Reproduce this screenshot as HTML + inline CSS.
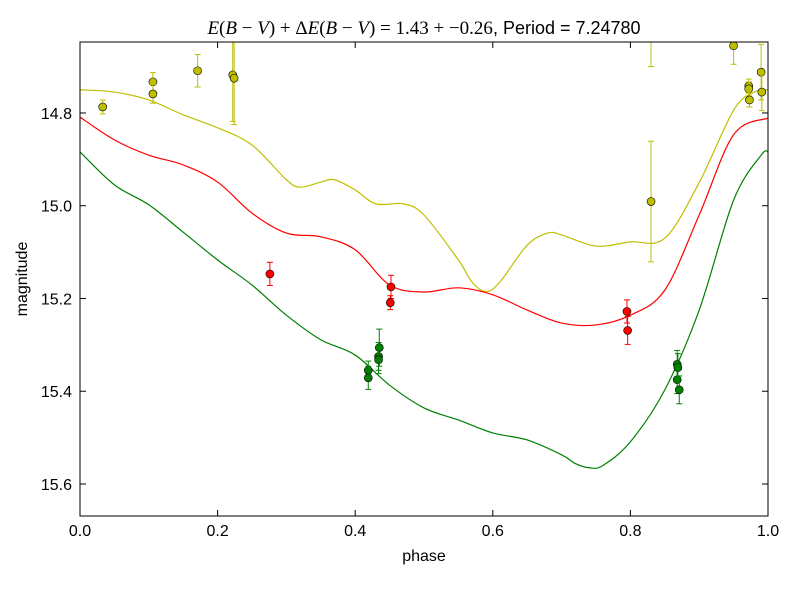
<!DOCTYPE html>
<html><head><meta charset="utf-8"><style>
body{margin:0;background:#fff;}
svg{font-family:"Liberation Sans",sans-serif;}
</style></head><body>
<svg id="chart" width="800" height="600"></svg>
<script>
const yPhase=[0.033,0.106,0.106,0.171,0.222,0.224,0.830,0.830,0.950,0.972,0.972,0.973,0.990,0.991];
const yMag=[14.787,14.733,14.759,14.709,14.718,14.725,14.991,14.600,14.655,14.742,14.748,14.772,14.712,14.755];
const yErr=[0.015,0.02,0.02,0.035,0.1,0.1,0.13,0.1,0.04,0.015,0.015,0.015,0.06,0.04];
const rPhase=[0.276,0.452,0.451,0.795,0.796];
const rMag=[15.147,15.175,15.209,15.228,15.269];
const rErr=[0.025,0.025,0.015,0.025,0.03];
const gPhase=[0.419,0.419,0.435,0.434,0.434,0.868,0.869,0.868,0.871];
const gMag=[15.355,15.371,15.306,15.325,15.332,15.342,15.349,15.375,15.397];
const gErr=[0.02,0.025,0.04,0.03,0.03,0.03,0.03,0.03,0.03];
const yCurveX=[0,0.05,0.1,0.15,0.2,0.25,0.3,0.32,0.35,0.37,0.4,0.43,0.47,0.5,0.55,0.57,0.59,0.61,0.65,0.68,0.7,0.75,0.8,0.85,0.9,0.95,0.98,1.0];
const yCurve=[14.750,14.755,14.772,14.804,14.832,14.869,14.944,14.960,14.949,14.944,14.966,14.996,14.996,15.020,15.117,15.165,15.185,15.165,15.085,15.059,15.063,15.087,15.078,15.070,14.950,14.794,14.755,14.750];
const rCurveX=[0,0.05,0.1,0.15,0.2,0.25,0.3,0.35,0.4,0.45,0.5,0.55,0.6,0.65,0.7,0.75,0.8,0.85,0.9,0.95,1.0];
const rCurve=[14.809,14.858,14.891,14.912,14.949,15.016,15.059,15.067,15.095,15.171,15.186,15.177,15.192,15.225,15.253,15.257,15.236,15.182,15.020,14.847,14.811];
const gCurveX=[0,0.05,0.1,0.15,0.2,0.25,0.3,0.35,0.4,0.45,0.5,0.55,0.6,0.65,0.7,0.72,0.74,0.76,0.8,0.85,0.9,0.95,0.99,1.0];
const gCurve=[14.884,14.955,14.998,15.057,15.117,15.171,15.236,15.289,15.322,15.387,15.436,15.462,15.490,15.505,15.537,15.556,15.565,15.560,15.509,15.397,15.225,14.988,14.891,14.884];
const xTicks=[0,0.2,0.4,0.6,0.8,1.0];
const xTickLabels=["0.0","0.2","0.4","0.6","0.8","1.0"];
const yTicks=[14.8,15.0,15.2,15.4,15.6];
const yTickLabels=["14.8","15.0","15.2","15.4","15.6"];

const L=80,R=768,T=42,B=516,yMin=14.647,yMax=15.669;
const sx=v=>L+(v-0)/(1-0)*(R-L);
const sy=v=>T+(v-yMin)/(yMax-yMin)*(B-T);
const NS="http://www.w3.org/2000/svg";
const svg=document.getElementById('chart');
function mk(tag,attrs,parent){const e=document.createElementNS(NS,tag);for(const k in attrs)e.setAttribute(k,attrs[k]);(parent||svg).appendChild(e);return e;}
mk('defs',{}).innerHTML='<clipPath id="clip"><rect x="80" y="42" width="688" height="474"/></clipPath>';
const plot=mk('g',{'clip-path':'url(#clip)'});


function curve(xs,ys,color,name){
  const p=xs.map((x,i)=>[sx(x),sy(ys[i])]);
  let d=`M${p[0][0]},${p[0][1]}`;
  for(let i=0;i<p.length-1;i++){
    const p0=p[Math.max(i-1,0)],p1=p[i],p2=p[i+1],p3=p[Math.min(i+2,p.length-1)];
    d+=` C${p1[0]+(p2[0]-p0[0])/6},${p1[1]+(p2[1]-p0[1])/6} ${p2[0]-(p3[0]-p1[0])/6},${p2[1]-(p3[1]-p1[1])/6} ${p2[0]},${p2[1]}`;
  }
  const e=mk('path',{d:d,fill:'none',stroke:color,'stroke-width':1.2},plot);
  
  
}
curve(yCurveX,yCurve,'#bfbf00','yellow-model-curve');
curve(rCurveX,rCurve,'#ff0000','red-model-curve');
curve(gCurveX,gCurve,'#008000','green-model-curve');
function pts(ph,mg,er,color,name){
  ph.forEach((x,i)=>{
    const cx=sx(x),y1=sy(mg[i]-er[i]),y2=sy(mg[i]+er[i]);
    const g=mk('g',{},plot);
    
    
    mk('line',{x1:cx,x2:cx,y1:y1,y2:y2,stroke:color,'stroke-width':1},g);
    mk('line',{x1:cx-3,x2:cx+3,y1:y1,y2:y1,stroke:color,'stroke-width':1},g);
    mk('line',{x1:cx-3,x2:cx+3,y1:y2,y2:y2,stroke:color,'stroke-width':1},g);
    mk('circle',{cx:cx,cy:sy(mg[i]),r:4,fill:color,stroke:'#000','stroke-width':0.6},g);
  });
}
pts(yPhase,yMag,yErr,'#bfbf00','yellow-data-point');
pts(rPhase,rMag,rErr,'#ff0000','red-data-point');
pts(gPhase,gMag,gErr,'#008000','green-data-point');
const frame=mk('rect',{x:L,y:T,width:R-L,height:B-T,fill:'none',stroke:'#000','stroke-width':1});


xTicks.forEach((v,i)=>{
  const x=sx(v);
  mk('line',{x1:x,x2:x,y1:B,y2:B-6,stroke:'#000'});
  mk('line',{x1:x,x2:x,y1:T,y2:T+6,stroke:'#000'});
  const t=mk('text',{x:x,y:B+20,'text-anchor':'middle','font-size':16});
  t.textContent=xTickLabels[i];
  
  
});
yTicks.forEach((v,i)=>{
  const y=sy(v);
  mk('line',{x1:L,x2:L+6,y1:y,y2:y,stroke:'#000'});
  mk('line',{x1:R,x2:R-6,y1:y,y2:y,stroke:'#000'});
  const t=mk('text',{x:L-8,y:y+6,'text-anchor':'end','font-size':16});
  t.textContent=yTickLabels[i];
  
  
});
const xl=mk('text',{x:424,y:561,'text-anchor':'middle','font-size':16});
xl.textContent='phase';


const yl=mk('text',{x:27,y:279,'text-anchor':'middle','font-size':16,transform:'rotate(-90 27 279)'});
yl.textContent='magnitude';


const tt=mk('text',{x:424,y:34,'text-anchor':'middle','font-size':19});
tt.innerHTML='<tspan font-family="Liberation Serif" font-style="italic">E</tspan><tspan font-family="Liberation Serif">(</tspan><tspan font-family="Liberation Serif" font-style="italic">B</tspan><tspan font-family="Liberation Serif"> − </tspan><tspan font-family="Liberation Serif" font-style="italic">V</tspan><tspan font-family="Liberation Serif">) + Δ</tspan><tspan font-family="Liberation Serif" font-style="italic">E</tspan><tspan font-family="Liberation Serif">(</tspan><tspan font-family="Liberation Serif" font-style="italic">B</tspan><tspan font-family="Liberation Serif"> − </tspan><tspan font-family="Liberation Serif" font-style="italic">V</tspan><tspan font-family="Liberation Serif">) = 1.43 + −0.26</tspan><tspan font-size="18">, Period = 7.24780</tspan>';


</script>
</body></html>
